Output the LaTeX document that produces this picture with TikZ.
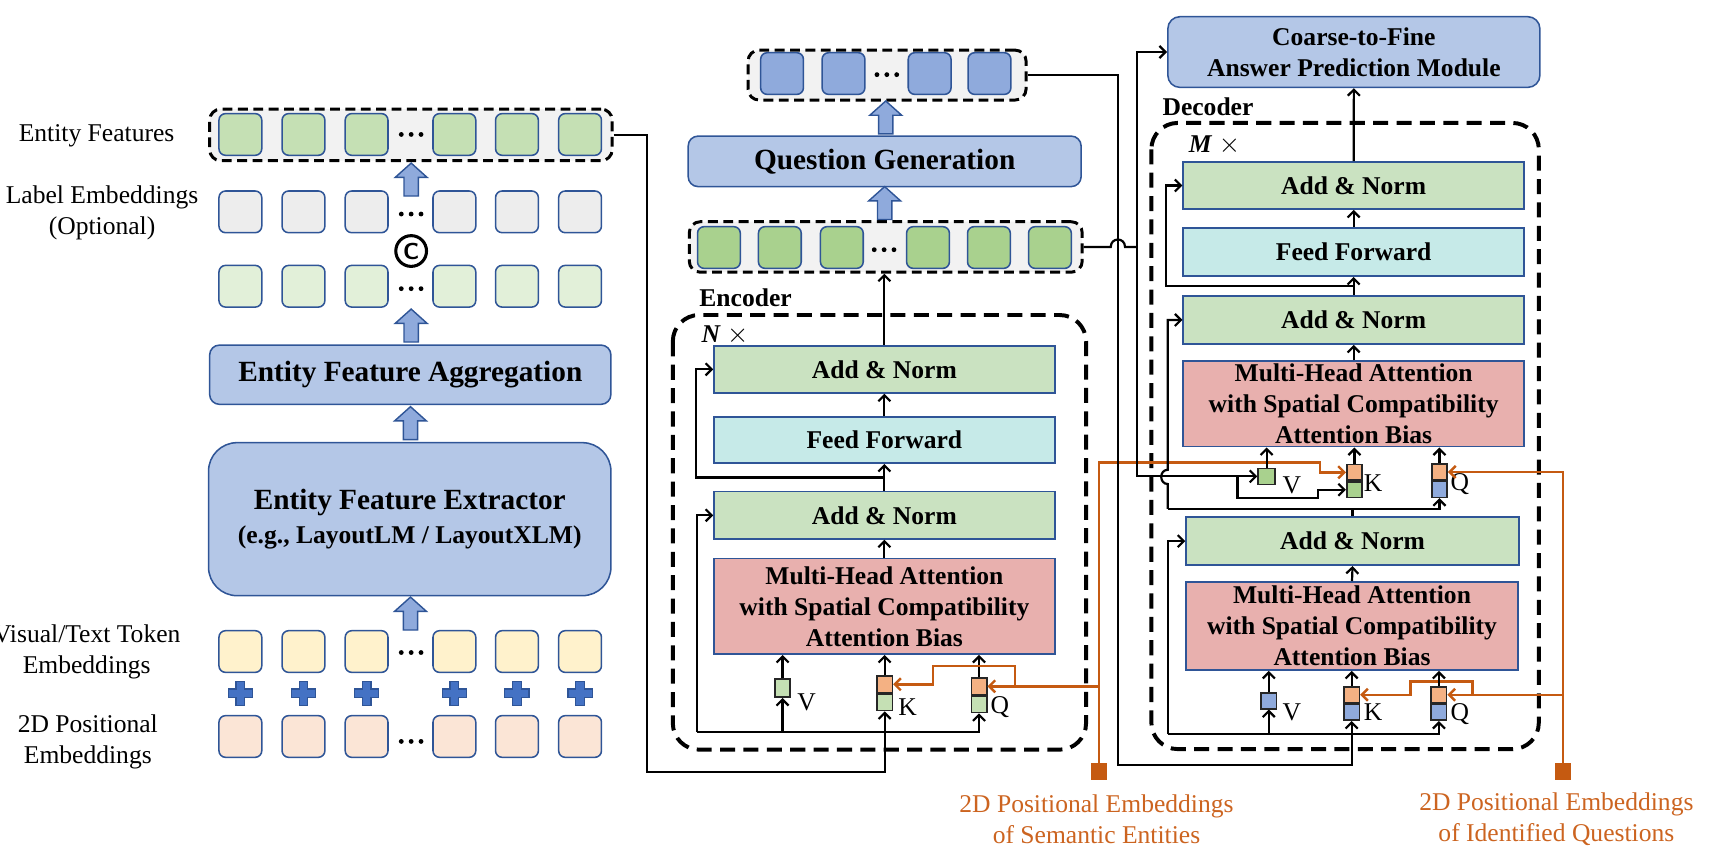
\documentclass[tikz,border=0pt]{standalone}
\usepackage{fontspec}
\setmainfont{Liberation Serif}
\usetikzlibrary{arrows.meta,positioning,calc}

\definecolor{edgeblue}{RGB}{47,85,151}
\definecolor{modblue}{RGB}{180,199,231}
\definecolor{tokblue}{RGB}{143,170,220}
\definecolor{featgreen}{RGB}{197,224,180}
\definecolor{outgreen}{RGB}{169,209,142}
\definecolor{palegreen}{RGB}{226,240,217}
\definecolor{labgray}{RGB}{237,237,237}
\definecolor{tokyellow}{RGB}{255,242,204}
\definecolor{tokpeach}{RGB}{251,229,214}
\definecolor{holdgray}{RGB}{242,242,242}
\definecolor{normgreen}{RGB}{202,226,193}
\definecolor{ffcyan}{RGB}{198,234,232}
\definecolor{attnpink}{RGB}{232,176,174}
\definecolor{posorange}{RGB}{197,90,17}
\definecolor{postext}{RGB}{204,100,32}
\definecolor{kqorange}{RGB}{244,177,131}
\definecolor{plusblue}{RGB}{68,114,196}

\newcommand{\basefont}{\fontsize{23.3pt}{28.3pt}\selectfont}
\newcommand{\bigfont}{\fontsize{26.7pt}{30.5pt}\selectfont}

\tikzset{
  tok/.style={draw=edgeblue, line width=1.4pt, rounded corners=6pt, minimum width=39pt, minimum height=38pt, inner sep=0pt},
  holder/.style={draw=black, line width=2.7pt, dash pattern=on 9pt off 5pt, rounded corners=10pt, fill=holdgray, inner sep=0pt},
  module/.style={draw=edgeblue, line width=1.4pt, fill=modblue, rounded corners=9pt, inner sep=0pt, align=center},
  sublayer/.style={draw=edgeblue, line width=1.4pt, minimum width=310.5pt, inner sep=0pt, align=center, font=\basefont\bfseries},
  frame/.style={line width=3.6pt, dash pattern=on 13.7pt off 7.6pt, rounded corners=24pt},
  vec/.style={draw=black!85, line width=1.4pt, minimum width=14pt, minimum height=14.5pt, inner sep=0pt},
  conn/.style={line width=2pt, -{Straight Barb[length=5.5pt,width=11pt]}},
  wire/.style={line width=2pt},
  posline/.style={draw=posorange, line width=2.2pt},
  posconn/.style={posline, -{Straight Barb[length=5.5pt,width=11pt]}},
  blockarrow/.style={draw=edgeblue, fill=tokblue, line width=1.3pt, line join=miter},
}

\newcommand{\upblock}[1]{\draw[blockarrow] (#1) ++(-6.5,0) -- ++(0,-17) -- ++(-8,0) -- ++(14.5,-13) -- ++(14.5,13) -- ++(-8,0) -- ++(0,17) -- cycle;}
\newcommand{\tokdots}[1]{\foreach \d in {-9,0,9} {\fill ($(#1)+(\d,0)$) circle (2.2pt);}}
\newcommand{\plussign}[1]{\draw[fill=plusblue, draw=edgeblue, line width=1pt] (#1) ++(-4,-11) -- ++(8,0) -- ++(0,7) -- ++(7,0) -- ++(0,8) -- ++(-7,0) -- ++(0,7) -- ++(-8,0) -- ++(0,-7) -- ++(-7,0) -- ++(0,-8) -- ++(7,0) -- cycle;}

\begin{document}
\basefont
\begin{tikzpicture}[x=1pt,y=-1pt,font=\basefont,every node/.style={inner sep=0pt}]
\useasboundingbox (0,0) rectangle (1568,788);

% left column: token rows
\node (lblent) at (88,124) {Entity Features};
\node[align=center] (lbllab) at (93,194) {Label Embeddings\\(Optional)};
\node[align=center] (lblvis) at (79,594) {Visual/Text Token\\Embeddings};
\node[align=center] (lblpos) at (80,675.5) {2D Positional\\Embeddings};

\node[holder, minimum width=366.7pt, minimum height=47pt] (efrow) at (374.4,122.9) {};
\foreach \x [count=\i] in {219,276.5,334,414,471,528.5} {
  \node[tok, fill=featgreen] (ef\i) at (\x,122.5) {};
  \node[tok, fill=labgray] (le\i) at (\x,193) {};
  \node[tok, fill=palegreen] (ag\i) at (\x,260.8) {};
  \node[tok, fill=tokyellow] (vt\i) at (\x,593.6) {};
  \node[tok, fill=tokpeach] (pe\i) at (\x,671) {};
  \plussign{\x,631.7}
}
\coordinate (efdots) at (374.6,122.5);
\coordinate (ledots) at (374.6,195);
\coordinate (agdots) at (374.6,263);
\coordinate (vtdots) at (374.6,594.5);
\coordinate (pedots) at (374.6,675.5);
\foreach \c in {efdots,ledots,agdots,vtdots,pedots} {\tokdots{\c}}
\node[circle, draw, line width=2.8pt, minimum size=28pt, font=\sffamily\bfseries\fontsize{21pt}{21pt}\selectfont] (concat) at (374.6,228.7) {C};

\node[module, minimum width=365.6pt, minimum height=54pt, font=\bigfont\bfseries] (agg) at (373.8,341.4) {Entity Feature Aggregation};
\node[module, rounded corners=26pt, minimum width=366.6pt, minimum height=139.4pt, font=\bigfont\bfseries] (extr) at (373.3,473) {Entity Feature Extractor\\{\fontsize{23.3pt}{30.5pt}\selectfont (e.g., LayoutLM / LayoutXLM)}};

\upblock{374.6,178.6}
\upblock{374.6,311.6}
\upblock{374,400.5}
\upblock{374,574}

% middle: question generation
\node[holder, minimum width=253.3pt, minimum height=45.5pt] (qrow) at (808.2,68.4) {};
\foreach \x [count=\i] in {712.5,768.5,847,901.5} \node[tok, fill=tokblue] (qt\i) at (\x,67) {};
\coordinate (qtdots) at (808,68);
\tokdots{qtdots}
\node[module, minimum width=358pt, minimum height=46pt, font=\bigfont\bfseries] (qgen) at (806,147) {Question Generation};
\node[holder, minimum width=358pt, minimum height=46pt] (encout) at (807,225) {};
\foreach \x [count=\i] in {655,710.5,767,845.5,901,956.6} \node[tok, fill=outgreen] (eo\i) at (\x,225.5) {};
\coordinate (eodots) at (805.5,227.5);
\tokdots{eodots}
\upblock{807,122}
\upblock{806,200}

% encoder
\draw[frame] (613,287) rectangle (989.5,683);
\node[anchor=west, font=\basefont\bfseries] (enclbl) at (637,271.5) {Encoder};
\node[anchor=west] (nrep) at (639,305) {\textbf{\textit{N}} $\times$};
\node[sublayer, fill=normgreen, minimum height=43pt] (encAN1) at (805.75,336.5) {Add \& Norm};
\node[sublayer, fill=ffcyan, minimum height=42pt] (encFF) at (805.75,401) {Feed Forward};
\node[sublayer, fill=normgreen, minimum height=43pt] (encAN2) at (805.75,469.5) {Add \& Norm};
\node[sublayer, fill=attnpink, minimum height=87pt] (encMHA) at (805.75,552.5) {Multi-Head Attention\\with Spatial Compatibility\\Attention Bias};

\node[vec, fill=featgreen, minimum height=16.5pt] (ev) at (713,627) {};
\node[vec, fill=kqorange, minimum height=15pt] (ekt) at (806,623.5) {};
\node[vec, fill=featgreen, minimum height=15pt, below=0pt of ekt] (ekb) {};
\node[vec, fill=kqorange, minimum height=15pt] (eqt) at (892,625.3) {};
\node[vec, fill=featgreen, minimum height=15pt, below=0pt of eqt] (eqb) {};
\node (evl) at (735,640) {V};
\node (ekl) at (827,644) {K};
\node (eql) at (911,644) {Q};

% decoder
\node[module, rounded corners=11pt, minimum width=339pt, minimum height=64.4pt, font=\basefont\bfseries] (c2f) at (1233.5,47.4) {Coarse-to-Fine\\Answer Prediction Module};
\draw[frame] (1049,112) rectangle (1402,682.5);
\node[anchor=west, font=\basefont\bfseries] (declbl) at (1059,97.5) {Decoder};
\node[anchor=west] (mrep) at (1083,132) {\textbf{\textit{M}} $\times$};
\node[sublayer, fill=normgreen, minimum height=43pt] (decAN1) at (1233.3,169) {Add \& Norm};
\node[sublayer, fill=ffcyan, minimum height=44pt] (decFF) at (1233.3,229.6) {Feed Forward};
\node[sublayer, fill=normgreen, minimum height=44pt] (decAN2) at (1233.3,291.5) {Add \& Norm};
\node[sublayer, fill=attnpink, minimum height=78pt] (decMHA1) at (1233.3,368) {Multi-Head Attention\\with Spatial Compatibility\\Attention Bias};
\node[sublayer, fill=normgreen, minimum width=303.4pt, minimum height=44pt] (decAN3) at (1232.3,493) {Add \& Norm};
\node[sublayer, fill=attnpink, minimum width=302.4pt, minimum height=80.5pt] (decMHA2) at (1231.8,570.3) {Multi-Head Attention\\with Spatial Compatibility\\Attention Bias};

\node[vec, fill=outgreen, minimum width=15.6pt] (dv1) at (1154,434) {};
\node[vec, fill=kqorange] (dkt1) at (1234,430.3) {};
\node[vec, fill=outgreen, below=0pt of dkt1] (dkb1) {};
\node[vec, fill=kqorange] (dqt1) at (1311.5,430) {};
\node[vec, fill=tokblue, below=0pt of dqt1] (dqb1) {};
\node (dv1l) at (1177,442) {V};
\node (dk1l) at (1251,440) {K};
\node (dq1l) at (1330,441) {Q};

\node[vec, fill=tokblue] (dv2) at (1156,638.5) {};
\node[vec, fill=kqorange] (dkt2) at (1231.5,633) {};
\node[vec, fill=tokblue, below=0pt of dkt2] (dkb2) {};
\node[vec, fill=kqorange] (dqt2) at (1311,633) {};
\node[vec, fill=tokblue, below=0pt of dqt2] (dqb2) {};
\node (dv2l) at (1177,649) {V};
\node (dk2l) at (1251,649) {K};
\node (dq2l) at (1330,651) {Q};

% positional sources
\node[fill=posorange, minimum width=15pt, minimum height=16pt] (semsq) at (1001.5,703) {};
\node[fill=posorange, minimum width=14pt, minimum height=16pt] (qsq) at (1424,703) {};
\node[text=postext, align=center] (semlbl) at (999,746) {2D Positional Embeddings\\of Semantic Entities};
\node[text=postext, align=center] (qlbl) at (1418,746) {2D Positional Embeddings\\of Identified Questions};

% entity features into encoder
\coordinate (entturn) at (589.5,703.4);
\draw[conn] (efrow.east) -| (entturn) -| (ekb.south);

% encoder wiring
\coordinate (encbus) at (635,667);
\draw[conn] (encbus) -| (eqb.south);
\draw[conn] (ev.south |- encbus) -- (ev.south);
\draw[conn] (encbus) |- (encAN2.west);
\foreach \n in {ev,ekt,eqt} \draw[conn] (\n.north) -- (\n.north |- encMHA.south);
\draw[conn] (encMHA.north) -- (encAN2.south);
\draw[conn] (encAN2.north) -- (encFF.south);
\draw[conn] (encFF.north) -- (encAN1.south);
\draw[conn] (encAN1.north) -- (encAN1.north |- encout.south);
\draw[conn] ($(encAN2.north)!.5!(encFF.south)$) -| ([xshift=-16pt]encAN1.west) -- (encAN1.west);

% semantic entity positions
\coordinate (semtop) at (1001.5,421.5);
\coordinate (ekjog) at (850,607);
\draw[posconn] (semsq.north) -- (semtop) -- ++(201,0) |- (dkt1.west);
\draw[posconn] (semsq.north |- eqt.east) -- (eqt.east);
\draw[posconn] ([xshift=25pt]eqt.east) |- (ekjog) |- (ekt.east);

% question positions
\coordinate (dkjog) at (1285,621);
\draw[posconn] (qsq.north) |- (dqt1.east);
\draw[posconn] (qsq.north |- dqt2.east) -- (dqt2.east);
\draw[posconn] ([xshift=23pt]dqt2.east) |- (dkjog) |- (dkt2.east);

% questions into decoder
\coordinate (qturn) at (1018.6,697);
\draw[conn] (qrow.east) -| (qturn) -| (dkb2.south);

% encoder output to decoder and answer module
\coordinate (encsplit) at (1036,225);
\draw[wire] (encout.east) -- (1012,225) .. controls (1012,216) and (1025,216) .. (1025,225) -- (encsplit);
\draw[conn] (encsplit) |- (c2f.west);
\draw[conn] (encsplit) |- (dv1.west);
\coordinate (kfork) at ([xshift=-18pt]dv1.west);
\coordinate (kjog) at (1201,453.7);
\draw[conn] (kfork) |- (kjog) |- (dkb1.west);

% decoder wiring
\coordinate (crossbus) at (1064,463.7);
\draw[wire] (decAN3.north) -- (decAN3.north |- crossbus);
\draw[conn] (crossbus) -| (dqb1.south);
\draw[conn] (crossbus) -- (1064,441) .. controls (1056,441) and (1056,428) .. (1064,428) |- (decAN2.west);
\foreach \n in {dv1,dkt1,dqt1} \draw[conn] (\n.north) -- (\n.north |- decMHA1.south);
\draw[conn] (decMHA1.north) -- (decAN2.south);
\draw[conn] (decAN2.north) -- (decFF.south);
\draw[conn] (decFF.north) -- (decAN1.south);
\draw[conn] (decAN1.north) -- (c2f.south);
\draw[conn] ($(decAN2.north)!.5!(decFF.south)$) -| ([xshift=-15pt]decAN1.west) -- (decAN1.west);

\coordinate (selfbus) at (1064,669);
\draw[conn] (selfbus) -| (dqb2.south);
\draw[conn] (dv2.south |- selfbus) -- (dv2.south);
\draw[conn] (selfbus) |- (decAN3.west);
\foreach \n in {dv2,dkt2,dqt2} \draw[conn] (\n.north) -- (\n.north |- decMHA2.south);
\draw[conn] (decMHA2.north) -- (decAN3.south);
\end{tikzpicture}
\end{document}
